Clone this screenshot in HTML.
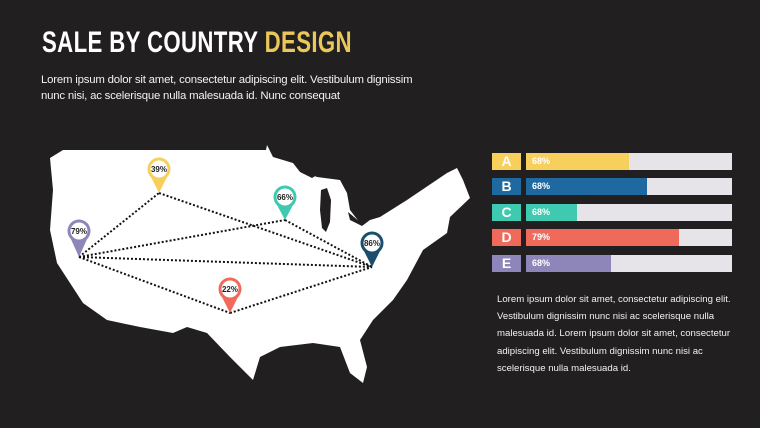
<!DOCTYPE html>
<html><head><meta charset="utf-8"><style>
html,body{margin:0;padding:0}
body{width:760px;height:428px;background:#221f20;position:relative;overflow:hidden;font-family:"Liberation Sans",sans-serif}
.t{position:absolute;left:42px;top:26px;font-size:30px;font-weight:bold;color:#fff;white-space:nowrap;transform:scaleX(0.74);transform-origin:0 0;letter-spacing:0.5px}
.t span{color:#e9c75a}
.p{position:absolute;left:41px;top:72px;width:388px;font-size:11.4px;letter-spacing:-0.2px;line-height:16px;color:#f2f2f2}
.p2{position:absolute;left:497px;top:291px;width:245px;font-size:9.6px;line-height:17.2px;color:#f2f2f2}
.row{position:absolute;left:492px;height:17px}
.lab{position:absolute;left:0;top:0;width:29px;height:17px;color:#fff;font-size:14px;font-weight:bold;text-align:center;line-height:17px}
.trk{position:absolute;left:34px;top:0;width:206px;height:17px;background:#e6e4e8}
.fill{position:absolute;left:0;top:0;height:17px}
.pct{position:absolute;left:6px;top:0;line-height:17px;font-size:9px;font-weight:bold;color:#fff}
</style></head><body>
<div class="t">SALE BY COUNTRY <span>DESIGN</span></div>
<div class="p">Lorem ipsum dolor sit amet, consectetur adipiscing elit. Vestibulum dignissim nunc nisi, ac scelerisque nulla malesuada id. Nunc consequat</div>

<svg width="760" height="428" style="position:absolute;left:0;top:0">
<polygon fill="#fff" points="50,158 63,150 266,150 267,145 273,157 293,163 307,173 317,177 340,180 347,193 350,210 360,223 380,217 407,200 447,173 457,168 463,180 470,198 450,217 447,233 423,250 407,280 393,300 373,320 360,340 367,367 363,383 350,373 340,347 313,343 280,347 260,357 253,380 230,357 207,333 187,327 173,333 140,327 107,320 83,303 70,283 57,263 50,230 53,190"/>
<polygon fill="#221f20" points="321,190 327,188 331,200 330,222 326,232 322,228 320,210"/>
<polygon fill="#221f20" points="293,163 307,170 317,175 312,178 300,172"/>
<polygon fill="#221f20" points="348,212 360,222 370,220 362,226 350,220"/>
<g stroke="#111" stroke-width="2" stroke-dasharray="2,2" fill="none">
<line x1="79" y1="257" x2="159" y2="193"/>
<line x1="79" y1="257" x2="285" y2="220"/>
<line x1="79" y1="257" x2="372" y2="267"/>
<line x1="79" y1="257" x2="230" y2="313"/>
<line x1="159" y1="193" x2="372" y2="267"/>
<line x1="285" y1="220" x2="372" y2="267"/>
<line x1="230" y1="313" x2="372" y2="267"/>
</g>
<g font-family="Liberation Sans,sans-serif" font-size="8" font-weight="bold" text-anchor="middle" fill="#222">
<g><polygon points="70,237 88,237 79,257" fill="#8e86b8"/><circle cx="79" cy="231" r="11.5" fill="#8e86b8"/><circle cx="79" cy="231" r="8.5" fill="#fff"/><text x="79" y="234">79%</text></g>
<g><polygon points="150,175 168,175 159,193" fill="#f7cf5c"/><circle cx="159" cy="169" r="11.5" fill="#f7cf5c"/><circle cx="159" cy="169" r="8.5" fill="#fff"/><text x="159" y="172">39%</text></g>
<g><polygon points="276,203 294,203 285,220" fill="#3ec9b0"/><circle cx="285" cy="197" r="11.5" fill="#3ec9b0"/><circle cx="285" cy="197" r="8.5" fill="#fff"/><text x="285" y="200">66%</text></g>
<g><polygon points="363,249 381,249 372,267" fill="#1b4e6c"/><circle cx="372" cy="243" r="11.5" fill="#1b4e6c"/><circle cx="372" cy="243" r="8.5" fill="#fff"/><text x="372" y="246">86%</text></g>
<g><polygon points="221,295 239,295 230,313" fill="#f06a5c"/><circle cx="230" cy="289" r="11.5" fill="#f06a5c"/><circle cx="230" cy="289" r="8.5" fill="#fff"/><text x="230" y="292">22%</text></g>
</g>
</svg>

<div class="row" style="top:153px"><div class="lab" style="background:#f7cf5c">A</div><div class="trk"><div class="fill" style="width:103px;background:#f7cf5c"></div><div class="pct">68%</div></div></div>
<div class="row" style="top:178px"><div class="lab" style="background:#1e6aa0">B</div><div class="trk"><div class="fill" style="width:121px;background:#1e6aa0"></div><div class="pct">68%</div></div></div>
<div class="row" style="top:204px"><div class="lab" style="background:#3ec9b0">C</div><div class="trk"><div class="fill" style="width:51px;background:#3ec9b0"></div><div class="pct">68%</div></div></div>
<div class="row" style="top:229px"><div class="lab" style="background:#f06a5c">D</div><div class="trk"><div class="fill" style="width:153px;background:#f06a5c"></div><div class="pct">79%</div></div></div>
<div class="row" style="top:255px"><div class="lab" style="background:#8e86b8">E</div><div class="trk"><div class="fill" style="width:85px;background:#8e86b8"></div><div class="pct">68%</div></div></div>

<div class="p2">Lorem ipsum dolor sit amet, consectetur adipiscing elit. Vestibulum dignissim nunc nisi ac scelerisque nulla malesuada id. Lorem ipsum dolor sit amet, consectetur adipiscing elit. Vestibulum dignissim nunc nisi ac scelerisque nulla malesuada id.</div>
</body></html>
